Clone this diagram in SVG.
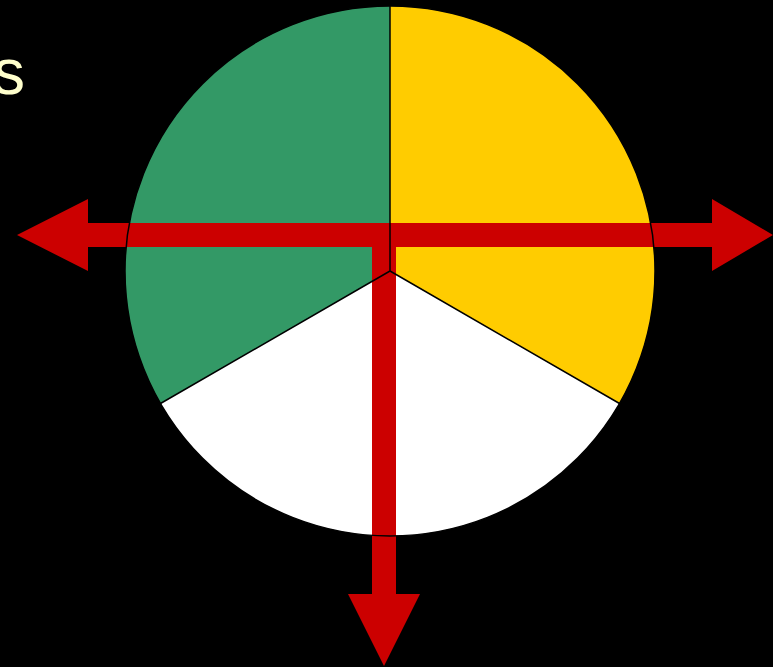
<svg xmlns="http://www.w3.org/2000/svg" width="773" height="667" viewBox="0 0 773 667">
<style>
.bg{fill:#000}
.arrow{fill:#CC0000}
.outline{fill:none;stroke:#000;stroke-width:1.5;stroke-linejoin:round}
.lbl{font-family:"Liberation Sans",Arial,sans-serif;font-size:64px;fill:#FFFFCC}
</style>
<rect class="bg" x="0" y="0" width="773" height="667"/>
<g id="pie">
<path id="sector-green" d="M390,271 L390,6 A265,265 0 0,0 160.5,403.5 Z" fill="#339966"/>
<path id="sector-yellow" d="M390,271 L390,6 A265,265 0 0,1 619.5,403.5 Z" fill="#FFCC00"/>
<path id="sector-white" d="M390,271 L160.5,403.5 A265,265 0 0,0 619.5,403.5 Z" fill="#FFFFFF"/>
</g>
<g id="connectors">
<polygon class="arrow" points="17,235 88,199 88,223 712,223 712,199 773,235 712,271 712,247 88,247 88,271"/>
<polygon class="arrow" points="372,240 396,240 396,594 420,594 384,666 348,594 372,594"/>
</g>
<g id="pie-outlines">
<circle class="outline" cx="390" cy="271" r="265"/>
<path class="outline" d="M390,6 L390,271 L160.5,403.5 M390,271 L619.5,403.5"/>
</g>
<g id="label">
<text class="lbl" x="25" y="94" text-anchor="end">s</text>
</g>
</svg>
